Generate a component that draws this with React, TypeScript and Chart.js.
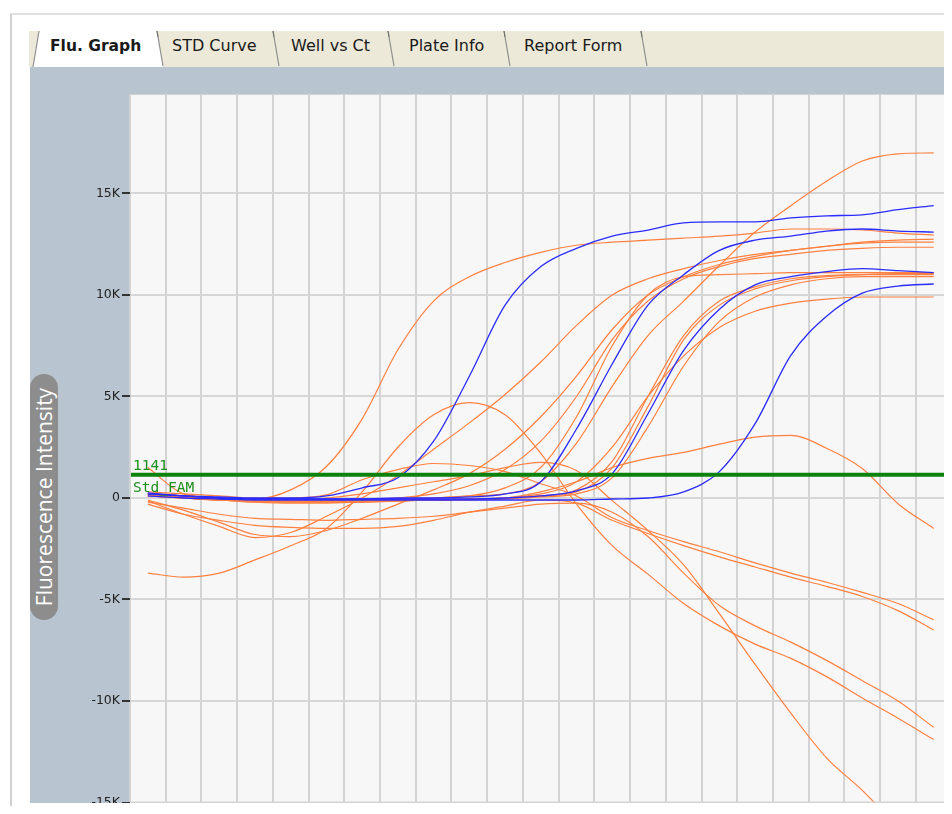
import React, { useEffect, useRef } from "react";
import { Chart, registerables } from "chart.js";

Chart.register(...registerables);

// ---------------- data ----------------
const CYCLES = [1, 3, 5, 7, 9, 11, 13, 15, 17, 19, 21, 23, 25, 27, 29, 31, 33, 35, 37, 39, 41, 43, 45];
const X_GRID = [0, 2, 4, 6, 8, 10, 12, 14, 16, 18, 20, 22, 24, 26, 28, 30, 32, 34, 36, 38, 40, 42, 44];
const Y_TICKS = [-15000, -10000, -5000, 0, 5000, 10000, 15000];
const THRESHOLD = 1141;
const THRESHOLD_NAME = "Std_FAM";
const TABS = ["Flu. Graph", "STD Curve", "Well vs Ct", "Plate Info", "Report Form"];
const Y_TITLE = "Fluorescence Intensity";

// blue wells
const blue1 = [200, 100, 50, 0, 0, 100, 500, 1000, 2800, 6000, 9500, 11400, 12300, 12900, 13200, 13550, 13600, 13600, 13800, 13900, 13950, 14200, 14400];
const blue2 = [250, 100, 0, -50, -50, -50, -50, 0, 0, 50, 200, 800, 3400, 6600, 9500, 11000, 12200, 12700, 12900, 13150, 13250, 13150, 13100];
const blue3 = [200, 100, 0, -50, -50, -50, -50, -50, -50, -50, 0, 100, 350, 1200, 4150, 7270, 9300, 10500, 10900, 11150, 11300, 11200, 11100];
const blue4 = [100, 0, -50, -100, -100, -100, -100, -100, -100, -100, -100, -100, -100, -50, 0, 300, 1300, 3660, 7030, 8950, 10090, 10440, 10540];

// orange wells
const orangeTall = [200, 100, 0, -100, -100, -100, -100, -50, 0, 100, 200, 800, 2700, 5500, 8000, 9700, 11450, 13100, 14400, 15600, 16600, 16950, 17000];
const orangeEarly = [200, 100, 0, -50, 400, 1550, 3900, 7300, 9700, 10900, 11600, 12100, 12450, 12600, 12700, 12800, 12900, 13050, 13250, 13250, 13200, 13050, 12950];
const orangeBigHump = [-3700, -3900, -3700, -3050, -2350, -1500, 300, 2500, 4100, 4700, 4100, 2200, -300, -2350, -3750, -5200, -6300, -7200, -7900, -8800, -9850, -10850, -11900];
const orangeLateHump = [200, 100, 0, -50, -100, -100, -100, -100, -100, -50, 0, 300, 800, 1500, 1950, 2250, 2650, 3000, 3080, 2450, 1450, -280, -1500];
const orangeHumpA = [300, 200, 100, 0, 0, 150, 900, 1400, 1700, 1600, 1300, 700, 100, -970, -1600, -2150, -2650, -3200, -3700, -4150, -4650, -5200, -6000];
const orangeHumpB = [100, 0, -100, -100, -100, 0, 200, 500, 800, 1100, 1500, 1750, 1350, -130, -1600, -3300, -5700, -8200, -10600, -12800, -14400, -16200, -17800];
const orangeDipC = [-300, -800, -1100, -1350, -1450, -1500, -1500, -1400, -1100, -700, -400, -100, -250, -1100, -1750, -2350, -2900, -3400, -3900, -4350, -4850, -5550, -6500];
const orangeDipD = [-200, -500, -800, -1000, -1050, -1100, -1050, -1000, -900, -700, -500, -300, -250, -700, -1900, -3700, -5300, -6300, -7100, -8000, -9000, -10000, -11300];
const orangeS1 = [-150, -800, -1400, -1950, -1700, -900, 0, 1100, 2400, 3700, 5100, 6700, 8500, 10000, 10800, 11300, 11700, 12000, 12200, 12400, 12600, 12700, 12750];
const orangeS2 = [-100, -600, -1200, -1800, -1900, -1600, -1000, -300, 400, 1200, 2400, 4000, 6000, 8300, 10000, 10900, 11500, 11900, 12200, 12400, 12550, 12600, 12600];
const orangeS3 = [200, 0, -100, -200, -200, -200, -100, 0, 200, 600, 1400, 2800, 5000, 7800, 9700, 10800, 11400, 11800, 12000, 12200, 12300, 12350, 12350];
const orangeS4 = [1500, 200, 0, -100, -100, -100, -100, -50, 0, 100, 500, 1500, 4000, 7500, 10000, 10900, 11000, 11050, 11100, 11100, 11100, 11100, 11100];
const orangeS5 = [150, 0, -100, -150, -150, -150, -150, -100, -100, -50, 0, 100, 300, 1500, 4500, 7800, 9500, 10300, 10700, 10900, 11000, 11050, 11050];
const orangeS6 = [100, 0, -100, -150, -200, -200, -200, -150, -100, -100, -50, 50, 200, 1000, 3500, 6500, 8700, 9900, 10500, 10800, 10900, 10900, 10900];
const orangeS7 = [100, 0, -100, -200, -250, -250, -200, -150, -100, -50, 0, 200, 800, 2500, 5000, 7000, 8400, 9200, 9600, 9800, 9900, 9900, 9900];
const orangeS8 = [200, 50, -50, -100, -150, -150, -150, -100, -100, -50, 0, 100, 400, 1800, 5000, 8000, 9700, 10400, 10800, 10950, 11000, 11000, 11000];

const BLUE_WELLS = [blue1, blue2, blue3, blue4];
const ORANGE_WELLS = [
  orangeTall, orangeEarly, orangeBigHump, orangeLateHump, orangeHumpA, orangeHumpB,
  orangeDipC, orangeDipD, orangeS1, orangeS2, orangeS3, orangeS4, orangeS5, orangeS6, orangeS7, orangeS8,
];

const X_MIN = 0;
const X_MAX = 45.8;
const Y_MIN = -15000;
const Y_MAX = 19900;

// ---------------- styles ----------------
const PANEL = "#b8c4cf";
const PLOT_BG = "#f7f7f7";
const ORANGE = "#ff8040";
const BLUE = "#2b2bff";
const GREEN = "#0b820b";

function toPoints(values: number[]) {
  return values.map((v, i) => ({ x: CYCLES[i], y: v }));
}

const bgPlugin = {
  id: "bg",
  beforeDraw(chart: any) {
    const { ctx, chartArea } = chart;
    ctx.save();
    ctx.fillStyle = PANEL;
    ctx.fillRect(0, 0, chart.width, chart.height);
    ctx.fillStyle = PLOT_BG;
    ctx.fillRect(chartArea.left, chartArea.top, chartArea.right - chartArea.left, chartArea.bottom - chartArea.top);
    ctx.restore();
  },
  afterDatasetsDraw(chart: any) {
    const { ctx, chartArea, scales } = chart;
    const y = scales.y.getPixelForValue(THRESHOLD);
    ctx.save();
    ctx.fillStyle = "#1d8f1d";
    ctx.font = "14.5px 'DejaVu Sans Mono', monospace";
    ctx.textBaseline = "alphabetic";
    ctx.textAlign = "left";
    ctx.fillText(String(THRESHOLD), chartArea.left + 3, y - 5);
    ctx.fillText(THRESHOLD_NAME, chartArea.left + 3, y + 17);
    ctx.restore();
  },
  afterDraw(chart: any) {
    const { ctx, chartArea } = chart;
    ctx.save();
    ctx.strokeStyle = "#d2d2d2";
    ctx.lineWidth = 1;
    ctx.strokeRect(chartArea.left + 0.5, chartArea.top + 0.5, chartArea.right - chartArea.left - 1, chartArea.bottom - chartArea.top - 1);
    ctx.restore();
  },
};

function FluChart() {
  const ref = useRef<HTMLCanvasElement | null>(null);
  useEffect(() => {
    if (!ref.current) return;
    const datasets: any[] = [];
    datasets.push({
      label: THRESHOLD_NAME,
      data: [{ x: X_MIN, y: THRESHOLD }, { x: X_MAX, y: THRESHOLD }],
      borderColor: GREEN,
      borderWidth: 4,
      pointRadius: 0,
      order: 0,
    });
    BLUE_WELLS.forEach((w, i) =>
      datasets.push({
        label: "blue" + i,
        data: toPoints(w),
        borderColor: BLUE,
        borderWidth: 1.3,
        pointRadius: 0,
        cubicInterpolationMode: "monotone",
        order: 1,
      })
    );
    ORANGE_WELLS.forEach((w, i) =>
      datasets.push({
        label: "orange" + i,
        data: toPoints(w),
        borderColor: ORANGE,
        borderWidth: 1.2,
        pointRadius: 0,
        cubicInterpolationMode: "monotone",
        order: 2,
      })
    );
    const chart = new Chart(ref.current, {
      type: "line",
      data: { datasets },
      plugins: [bgPlugin],
      options: {
        animation: false,
        responsive: false,
        maintainAspectRatio: false,
        layout: { padding: { top: 27, right: 0, bottom: 1, left: 0 } },
        plugins: { legend: { display: false }, tooltip: { enabled: false } },
        scales: {
          x: {
            type: "linear",
            min: X_MIN,
            max: X_MAX,
            ticks: { display: false },
            grid: { color: "#d3d3d3", lineWidth: 2, drawTicks: false },
            border: { display: false },
            afterBuildTicks(scale: any) {
              scale.ticks = X_GRID.map((value) => ({ value }));
            },
            afterFit(scale: any) {
              scale.height = 0;
            },
          },
          y: {
            type: "linear",
            min: Y_MIN,
            max: Y_MAX,
            ticks: {
              padding: 2,
              color: "#222",
              font: { family: "'DejaVu Sans', sans-serif", size: 12.5 },
              callback: (v: any) => (Number(v) === 0 ? "0" : `${Number(v) / 1000}K`),
            },
            grid: { color: "#d6d6d6", lineWidth: 2, tickLength: 8, tickColor: "#333" },
            border: { display: false },
            afterBuildTicks(scale: any) {
              scale.ticks = Y_TICKS.map((value) => ({ value }));
            },
            afterFit(scale: any) {
              scale.width = 70;
            },
          },
        },
      } as any,
    });
    return () => chart.destroy();
  }, []);
  return (
    <div style={{ position: "absolute", left: 60, top: 67, width: 888, height: 736, overflow: "hidden" }}>
      <canvas ref={ref} width={888} height={745} style={{ display: "block", width: 888, height: 745 }} />
    </div>
  );
}

const TAB_TEXT_X = [50, 172, 291, 409, 524];
const TAB_SEP = [
  [157, 163],
  [273, 279],
  [388, 394],
  [504, 510],
  [641, 647],
];

function TabStrip() {
  return (
    <svg width={952} height={70} style={{ position: "absolute", left: 0, top: 0 }}>
      <rect x={29} y={31} width={923} height={36} fill="#ece9d8" />
      <polygon points="33,67 39,31 157,31 163,67" fill="#ffffff" />
      <line x1={33} y1={67} x2={39} y2={31} stroke="#8f8f8f" strokeWidth={1.2} />
      {TAB_SEP.map(([a, b], i) => (
        <g key={i}>
          <line x1={a} y1={31} x2={b} y2={66} stroke="#8f8f8f" strokeWidth={1.2} />
          <line x1={a} y1={31} x2={a + 1} y2={37} stroke="#6f6f6f" strokeWidth={1} />
        </g>
      ))}
      {TABS.map((t, i) => (
        <text
          key={t}
          x={TAB_TEXT_X[i]}
          y={51}
          fontFamily="'DejaVu Sans', sans-serif"
          fontSize={i === 0 ? 15.5 : 16}
          fontWeight={i === 0 ? "bold" : "normal"}
          fill="#1a1a1a"
        >
          {t}
        </text>
      ))}
    </svg>
  );
}

function YTitle() {
  return (
    <div
      style={{
        position: "absolute",
        left: 30,
        top: 374,
        width: 28,
        height: 246,
        background: "#8d8d8d",
        borderRadius: 14,
      }}
    >
      <div
        style={{
          position: "absolute",
          left: 14,
          top: 123,
          transform: "translate(-50%, -50%) rotate(-90deg)",
          whiteSpace: "nowrap",
          color: "#ffffff",
          fontFamily: "'Open Sans', sans-serif",
          fontSize: 21,
          lineHeight: "24px",
        }}
      >
        {Y_TITLE}
      </div>
    </div>
  );
}

export default function App() {
  return (
    <div
      style={{
        position: "relative",
        width: 952,
        height: 814,
        margin: -8,
        background: "#ffffff",
        overflow: "hidden",
      }}
    >
      <div
        style={{
          position: "absolute",
          left: 10,
          top: 13,
          width: 960,
          height: 800,
          borderLeft: "2px solid #d0d0d0",
          borderTop: "2px solid #e0e0e0",
        }}
      />
      <TabStrip />
      <div style={{ position: "absolute", left: 30, top: 67, width: 918, height: 736, background: PANEL }} />
      <FluChart />
      <YTitle />
    </div>
  );
}
